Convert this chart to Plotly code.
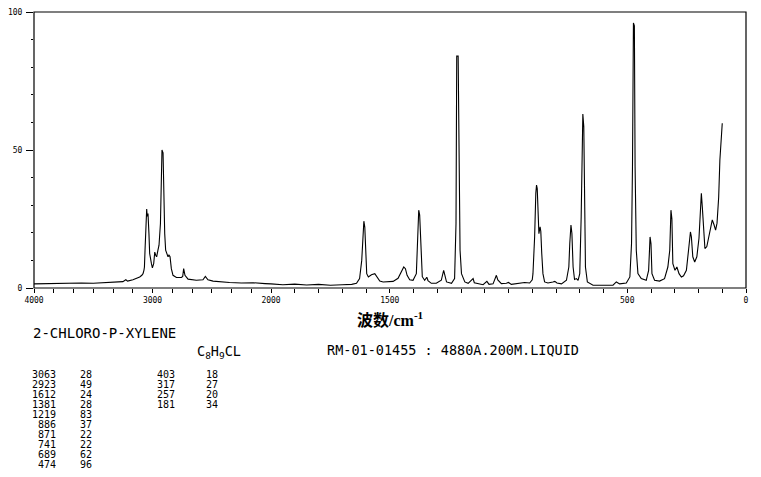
import plotly.graph_objects as go

# ---------------- data ----------------
# high-wavenumber part (4000 -> 2000 cm-1, compressed scale)
hi_wn = [4000, 3900, 3850, 3800, 3700, 3600, 3500, 3400, 3300, 3250, 3225, 3210,
         3165, 3130, 3108, 3090, 3080, 3072, 3068, 3063, 3057, 3049, 3045, 3038,
         3030, 3024, 3009, 3001, 2990, 2981, 2973, 2965, 2954, 2945, 2933, 2925,
         2920, 2911, 2905, 2897, 2889, 2878, 2869, 2861, 2852, 2841, 2827, 2798,
         2756, 2745, 2737, 2726, 2700, 2630, 2574, 2554, 2532, 2489, 2433, 2350,
         2250, 2150, 2050, 2000]
hi_int = [1.5, 1.6, 1.4, 1.7, 1.6, 1.8, 1.7, 1.9, 2.0, 2.3, 3.0, 2.5,
          3.0, 3.5, 4.0, 4.6, 5.2, 6.5, 7.6, 13.7, 22.0, 28.6, 26.0, 27.0,
          19.7, 12.5, 8.8, 7.3, 8.8, 13.0, 11.9, 11.3, 13.7, 15.5, 23.4, 34.9,
          50.0, 49.0, 33.0, 19.7, 13.7, 12.5, 11.3, 11.9, 11.3, 7.0, 4.6, 3.8,
          3.8, 4.2, 7.0, 4.6, 3.2, 2.8, 3.0, 4.2, 3.0, 2.5, 2.2, 2.0,
          1.8, 1.9, 1.6, 1.5]

# low-wavenumber part (2000 -> 100 cm-1)
lo_wn = [2000, 1950, 1900, 1850, 1800, 1750, 1700, 1660, 1640, 1627, 1618, 1613,
         1609, 1605, 1601, 1597, 1590, 1577, 1563, 1554, 1542, 1528, 1486, 1465,
         1451, 1441, 1434, 1427, 1416, 1402, 1388, 1382, 1378, 1374, 1368, 1363,
         1353, 1344, 1339, 1325, 1304, 1283, 1273, 1267, 1261, 1240, 1227, 1221,
         1218, 1212, 1208, 1204, 1198, 1184, 1170, 1149, 1144, 1128, 1107, 1091,
         1082, 1065, 1051, 1045, 1030, 1009, 1000, 988, 953, 932, 911, 900,
         897, 890, 885, 882, 879, 876, 872, 867, 864, 860, 855, 848,
         834, 813, 805, 796, 777, 756, 746, 742, 737, 733, 728, 722,
         714, 707, 700, 694, 690, 687, 683, 680, 676, 668, 644, 560,
         546, 532, 504, 489, 482, 478, 474, 470, 467, 462, 455, 441,
         420, 410, 404, 400, 396, 385, 364, 343, 329, 321, 316, 312,
         308, 299, 291, 282, 272, 263, 251, 242, 234, 230, 224, 216,
         207, 198, 192, 188, 184, 178, 173, 165, 156, 149, 142, 135,
         128, 122, 115, 110, 104, 100]
lo_int = [1.5, 1.2, 1.4, 1.1, 1.3, 1.0, 1.2, 1.3, 1.7, 3.4, 10.0, 18.5,
          24.2, 22.0, 10.0, 5.2, 4.0, 4.8, 5.2, 4.2, 2.5, 2.2, 2.4, 3.5,
          5.8, 7.6, 7.0, 4.6, 3.0, 2.8, 5.2, 17.3, 28.2, 26.4, 10.0, 4.1,
          2.8, 3.9, 2.7, 1.7, 1.7, 2.8, 6.4, 4.2, 2.2, 1.7, 3.4, 23.4,
          84.0, 84.0, 39.0, 13.7, 5.2, 2.2, 1.7, 3.4, 1.9, 1.7, 1.2, 2.4,
          1.3, 1.5, 4.6, 2.9, 1.6, 1.7, 2.0, 1.3, 1.8, 2.0, 1.8, 3.0,
          5.2, 18.5, 34.3, 37.3, 36.0, 29.4, 19.7, 22.2, 20.5, 12.5, 5.2, 2.2,
          1.8, 2.2, 2.4, 1.8, 1.5, 2.8, 7.6, 16.1, 22.8, 19.7, 7.6, 3.1,
          3.4, 2.8, 5.2, 25.8, 50.0, 63.0, 58.5, 31.8, 7.6, 2.2, 1.0, 1.0,
          2.2, 1.5, 1.8, 4.0, 16.1, 44.0, 96.0, 95.0, 44.0, 13.7, 5.2, 3.4,
          2.8, 6.4, 18.5, 16.0, 5.2, 2.8, 2.5, 3.4, 7.6, 13.7, 28.2, 25.0,
          8.8, 6.4, 7.6, 5.2, 4.0, 4.4, 6.4, 13.7, 20.3, 18.5, 11.3, 9.4,
          11.3, 18.0, 30.6, 34.3, 29.4, 18.5, 14.3, 15.0, 18.5, 22.2, 24.7, 23.0,
          21.0, 23.5, 33.0, 46.4, 56.0, 59.7]

# peak table
peaks_a_wn = [3063, 2923, 1612, 1381, 1219, 886, 871, 741, 689, 474]
peaks_a_int = [28, 49, 24, 28, 83, 37, 22, 22, 62, 96]
peaks_b_wn = [403, 317, 257, 181]
peaks_b_int = [18, 27, 20, 34]

hi_tickvals = [4000, 3000]
lo_tickvals = [2000, 1500, 500, 0]
y_tickvals = [0, 50, 100]

compound = "2-CHLORO-P-XYLENE"
formula = "C<sub>8</sub>H<sub>9</sub>CL"
sample_info = "RM-01-01455 : 4880A.200M.LIQUID"
x_title = "波数/cm<sup>-1</sup>"

# ---------------- layout geometry ----------------
W, H = 761, 477
ML, MR, MT, MB = 34, 15, 12, 189
PW = W - ML - MR
PH = H - MT - MB
split = 237 / PW


def px(x):
    return (x - ML) / PW


def py(y):
    return 1 - (y - MT) / PH


TICK_FONT = dict(family="DejaVu Sans Mono", size=8, color="black")
TEXT_FONT = dict(family="DejaVu Sans Mono", size=13.5, color="black")
TABLE_FONT = dict(family="DejaVu Sans Mono", size=10, color="black")

fig = go.Figure()
fig.add_trace(go.Scatter(x=hi_wn, y=hi_int, mode="lines", xaxis="x", yaxis="y",
                         line=dict(color="black", width=1.1), showlegend=False,
                         hoverinfo="skip"))
fig.add_trace(go.Scatter(x=lo_wn, y=lo_int, mode="lines", xaxis="x2", yaxis="y2",
                         line=dict(color="black", width=1.1), showlegend=False,
                         hoverinfo="skip"))

common_x = dict(showgrid=False, zeroline=False, showline=False, ticks="outside",
                ticklen=4, tickwidth=1, tickcolor="black", tickfont=TICK_FONT,
                fixedrange=True, automargin=False)

fig.update_layout(
    width=W, height=H,
    margin=dict(l=ML, r=MR, t=MT, b=MB, pad=0, autoexpand=False),
    paper_bgcolor="white", plot_bgcolor="white",
    xaxis=dict(domain=[0, split], range=[4000, 2000], anchor="y",
               tickmode="array", tickvals=hi_tickvals,
               ticktext=[str(v) for v in hi_tickvals],
               minor=dict(tickmode="linear", tick0=4000, dtick=1000 / 6,
                          ticks="outside", ticklen=4, tickcolor="black"),
               **common_x),
    xaxis2=dict(domain=[split, 1], range=[2000, 0], anchor="y2",
                tickmode="array", tickvals=lo_tickvals,
                ticktext=[str(v) for v in lo_tickvals],
                minor=dict(tickmode="linear", tick0=0, dtick=100,
                           ticks="outside", ticklen=4, tickcolor="black"),
                **common_x),
    yaxis=dict(domain=[0, 1], range=[0, 100], anchor="x", showgrid=False,
               zeroline=False, showline=False, ticks="outside", ticklen=7,
               tickwidth=1, tickcolor="black", tickmode="array",
               tickvals=y_tickvals, tickfont=TICK_FONT, ticklabelstandoff=2,
               minor=dict(tickmode="linear", tick0=0, dtick=10, ticks="outside",
                          ticklen=2, tickcolor="black"),
               fixedrange=True, automargin=False),
    yaxis2=dict(domain=[0, 1], range=[0, 100], anchor="x2", matches="y",
                visible=False, fixedrange=True),
    shapes=[dict(type="rect", xref="paper", yref="paper", x0=0, x1=1, y0=0, y1=1,
                 line=dict(color="black", width=1.2), fillcolor="rgba(0,0,0,0)")],
)

ann = []
ann.append(dict(text=x_title, x=0.5, y=py(319), xanchor="center", yanchor="middle",
                font=dict(family="Liberation Serif, Noto Sans CJK SC", size=16,
                          color="black", weight="bold")))
ann.append(dict(text=compound, x=px(32), y=py(333), xanchor="left", yanchor="middle",
                font=dict(family="DejaVu Sans Mono", size=14, color="black")))
ann.append(dict(text=formula, x=px(196), y=py(352), xanchor="left", yanchor="middle",
                font=TEXT_FONT))
ann.append(dict(text=sample_info, x=px(326), y=py(350), xanchor="left",
                yanchor="middle", font=TEXT_FONT))

row0, dy = 374, 10
for i, (w, v) in enumerate(zip(peaks_a_wn, peaks_a_int)):
    yy = py(row0 + i * dy)
    ann.append(dict(text=str(w), x=px(57), y=yy, xanchor="right", yanchor="middle",
                    font=TABLE_FONT, height=9))
    ann.append(dict(text=str(v), x=px(79), y=yy, xanchor="left", yanchor="middle",
                    font=TABLE_FONT, height=9))
for i, (w, v) in enumerate(zip(peaks_b_wn, peaks_b_int)):
    yy = py(row0 + i * dy)
    ann.append(dict(text=str(w), x=px(176), y=yy, xanchor="right", yanchor="middle",
                    font=TABLE_FONT, height=9))
    ann.append(dict(text=str(v), x=px(205), y=yy, xanchor="left", yanchor="middle",
                    font=TABLE_FONT, height=9))

for a in ann:
    a.update(xref="paper", yref="paper", showarrow=False, borderpad=0)
fig.update_layout(annotations=ann)

fig.write_html("out.html",
               config={"displayModeBar": False},
               post_script="document.body.style.margin='0';"
                           "document.body.style.padding='0';")
